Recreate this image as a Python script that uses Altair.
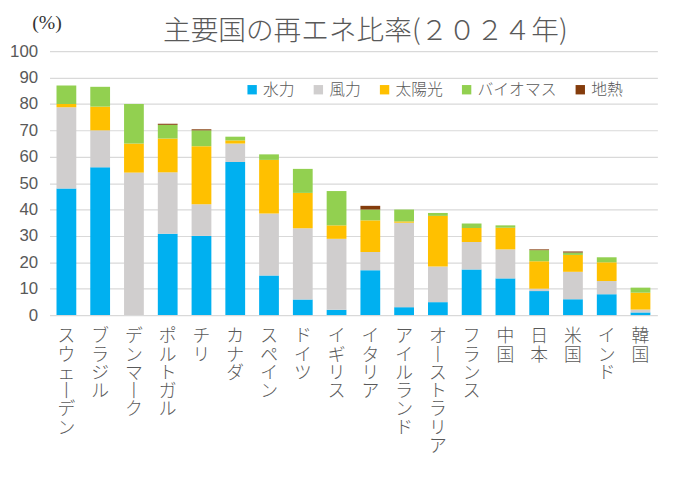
import altair as alt
import pandas as pd

countries = ["スウェーデン", "ブラジル", "デンマーク", "ポルトガル", "チリ", "カナダ",
             "スペイン", "ドイツ", "イギリス", "イタリア", "アイルランド", "オーストラリア",
             "フランス", "中国", "日本", "米国", "インド", "韓国"]
sources = ["水力", "風力", "太陽光", "バイオマス", "地熱"]
colors = ["#00B0F0", "#D0CECE", "#FFC000", "#92D050", "#843C0C"]

hydro = [48, 56, 0, 30.8, 30, 58, 15, 5.9, 2, 17, 3, 4.9, 17.3, 13.9, 9.1, 6, 7.9, 1]
wind = [30.8, 14, 54, 23.3, 12, 7, 23.5, 27, 26.9, 6.9, 32, 13.5, 10.4, 11, 0.9, 10.4, 5, 1.1]
solar = [1.2, 9, 11, 12.8, 22, 1.2, 20.3, 13.4, 5.1, 12, 0.5, 19.2, 5.3, 8.2, 10.4, 6.4, 7.1, 6.4]
bio = [7, 7.5, 15, 5.2, 6, 1.4, 2.1, 9.1, 13, 4.1, 4.5, 1.1, 1.7, 0.9, 4.2, 0.9, 1.9, 1.9]
geo = [0, 0, 0, 0.4, 0.4, 0, 0, 0, 0, 1.4, 0, 0, 0, 0, 0.3, 0.4, 0, 0]

series = [hydro, wind, solar, bio, geo]
rows = []
for si, (s, vals) in enumerate(zip(sources, series)):
    for c, v in zip(countries, vals):
        rows.append({"国": c, "電源": s, "比率": v, "順": si})
df = pd.DataFrame(rows)

font = "Noto Sans CJK JP"
gray = "#595959"

chart = alt.Chart(df).mark_bar(size=20).encode(
    x=alt.X("国:N", sort=countries,
            scale=alt.Scale(paddingInner=0.42, paddingOuter=0.21),
            axis=alt.Axis(title=None, labelAngle=0, labelBaseline="top",
                          labelExpr="split(replace(datum.label, 'ー', '丨'), '')",
                          labelLineHeight=18.5, labelFontSize=18, labelFont=font,
                          labelFontWeight=300,
                          labelColor=gray, labelPadding=13, ticks=False,
                          domain=False, labelOverlap=False)),
    y=alt.Y("比率:Q", stack="zero",
            scale=alt.Scale(domain=[0, 100], nice=False),
            axis=alt.Axis(title="(%)", titleAngle=0, titleAlign="left",
                          titleBaseline="alphabetic", titleX=-18, titleY=-23,
                          titleFont="Liberation Serif", titleFontSize=20,
                          titleFontWeight="normal", titleColor="#333333",
                          values=list(range(0, 101, 10)), labelFontSize=17,
                          labelFont="Liberation Sans", labelColor=gray,
                          labelPadding=12, ticks=False, domain=False,
                          gridColor="#D9D9D9", gridWidth=1.2)),
    color=alt.Color("電源:N", sort=sources,
                    scale=alt.Scale(domain=sources, range=colors),
                    legend=alt.Legend(title=None, orient="none", direction="horizontal",
                                      legendX=197, legendY=31, symbolType="square",
                                      symbolSize=90, symbolStrokeWidth=0,
                                      labelFontSize=16, labelFont=font,
                                      labelFontWeight=300,
                                      labelColor=gray, columnPadding=15,
                                      symbolOffset=0, labelOffset=3)),
    order=alt.Order("順:Q", sort="ascending"),
).properties(
    width=615, height=267,
    padding={"left": 42, "top": 41, "right": 32, "bottom": 150},
    autosize=alt.AutoSizeParams(type="none"),
    title=alt.TitleParams("主要国の再エネ比率(２０２４年)", fontSize=28, font=font,
                          fontWeight=300, color=gray, anchor="middle",
                          frame="group", dx=12, offset=-34),
).configure_view(stroke=None)

chart.save("out.html", embed_options={"renderer": "svg", "actions": False})
